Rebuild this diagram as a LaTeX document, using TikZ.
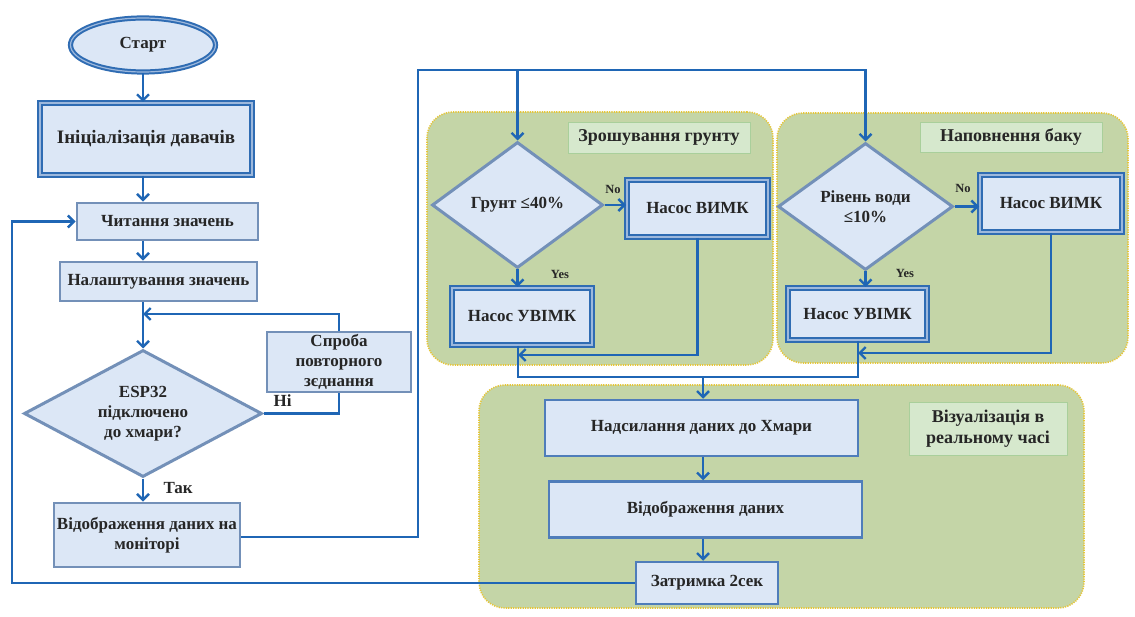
\documentclass[tikz,border=0pt]{standalone}
\usepackage{fontspec}
\setmainfont{Liberation Serif}
\usetikzlibrary{shapes.geometric,arrows.meta,calc}
\definecolor{lineblue}{HTML}{1F66B5}
\definecolor{boxfill}{HTML}{DCE7F6}
\definecolor{boxedge}{HTML}{7390B8}
\definecolor{dblout}{HTML}{2F6CB3}
\definecolor{dblin}{HTML}{9DB8DC}
\definecolor{midedge}{HTML}{4F7DBA}
\definecolor{grpfill}{HTML}{C4D5A7}
\definecolor{grpedge}{HTML}{E6C63A}
\definecolor{lblfill}{HTML}{D6E8CD}
\definecolor{lbledge}{HTML}{A9CF9B}
\tikzset{
  txt/.style={font=\bfseries\fontsize{17}{20}\selectfont, align=center, text=black!85},
  bigtxt/.style={font=\bfseries\fontsize{19}{22}\selectfont},
  small/.style={font=\bfseries\fontsize{12.5}{15}\selectfont, text=black!85},
  plainbox/.style={txt, rectangle, draw=boxedge, line width=2.8pt, fill=boxfill, inner sep=0pt},
  midbox/.style={txt, rectangle, draw=midedge, line width=2.5pt, fill=boxfill, inner sep=0pt},
  dblbox/.style={txt, rectangle, draw=dblout, line width=2pt, double=dblin, double distance=1.2pt, fill=boxfill, inner sep=0pt},
  decision/.style={txt, diamond, draw=boxedge, line width=3pt, fill=boxfill, inner sep=0pt},
  terminal/.style={txt, ellipse, draw=dblout, line width=2pt, double=dblin, double distance=1.2pt, fill=boxfill, inner sep=0pt},
  group/.style={rectangle, rounded corners=26pt, fill=grpfill, draw=grpedge, line width=1.6pt, dash pattern=on 1.2pt off 1.2pt},
  grplabel/.style={txt, font=\bfseries\fontsize{18}{21}\selectfont, rectangle, fill=lblfill, draw=lbledge, line width=0.8pt, inner sep=0pt},
  conn/.style={draw=lineblue, line width=2.4pt},
  arr/.style={conn, -{Straight Barb[length=6pt,width=12pt,line width=2.4pt]}},
}
\begin{document}
\begin{tikzpicture}[x=1pt,y=-1pt]
\useasboundingbox[fill=white] (0,0) rectangle (1135,617);

% groups
\node[group, minimum width=346pt, minimum height=253pt] (g1) at (600,238.5) {};
\node[group, minimum width=351pt, minimum height=250pt] (g2) at (952.5,238) {};
\node[group, minimum width=605pt, minimum height=223pt] (g3) at (781.5,496.5) {};
\node[grplabel, minimum width=182pt, minimum height=31pt] (l1) at (659,137.5) {Зрошування грунту};
\node[grplabel, minimum width=182pt, minimum height=30pt] (l2) at (1011,137) {Наповнення баку};
\node[grplabel, minimum width=158pt, minimum height=53pt] (l3) at (988,428.5) {Візуалізація в\\реальному часі};

% left column
\node[terminal, minimum width=145pt, minimum height=54pt] (start) at (143,45) {Старт};
\node[dblbox, bigtxt, minimum width=212pt, minimum height=72pt] (init) at (146,139) {Ініціалізація давачів};
\node[plainbox, minimum width=181pt, minimum height=37pt] (read) at (167.5,221.5) {Читання значень};
\node[plainbox, minimum width=197pt, minimum height=39pt] (adj) at (158.5,281.5) {Налаштування значень};
\node[decision, aspect=1.87, minimum width=238pt, minimum height=127pt] (esp) at (143,413.5) {ESP32\\підключено\\до хмари?};
\node[plainbox, minimum width=144pt, minimum height=60pt] (retry) at (339,362) {Спроба\\повторного\\зєднання};
\node[plainbox, minimum width=186pt, minimum height=64pt] (disp) at (147,535) {Відображення даних на\\моніторі};

% group 1
\node[decision, aspect=1.36, minimum width=171pt, minimum height=126pt] (d1) at (517.5,205) {Грунт ≤40\%};
\node[dblbox, minimum width=141pt, minimum height=57pt] (v1) at (697.5,208.5) {Насос ВИМК};
\node[dblbox, minimum width=140pt, minimum height=57pt] (u1) at (522,316.5) {Насос УВІМК};

% group 2
\node[decision, aspect=1.38, minimum width=175pt, minimum height=127pt] (d2) at (865.5,206.5) {Рівень води\\≤10\%};
\node[dblbox, minimum width=142pt, minimum height=57pt] (v2) at (1051,203.5) {Насос ВИМК};
\node[dblbox, minimum width=139pt, minimum height=52pt] (u2) at (857.5,314) {Насос УВІМК};

% group 3
\node[midbox, minimum width=313pt, minimum height=56pt] (send) at (701.5,428) {Надсилання даних до Хмари};
\node[midbox, minimum width=313pt, minimum height=56pt] (show) at (705.5,509.5) {Відображення даних};
\node[midbox, minimum width=142pt, minimum height=42pt] (delay) at (707,583) {Затримка 2сек};

% coordinates
\coordinate (mj) at (143,314);
\coordinate (tl) at (418,70);
\coordinate (j1) at (518,355);
\coordinate (j2) at (858,353);
\coordinate (j3) at (703,377);
\coordinate (lb) at (12,583);

% connectors left
\draw[arr] (start.south) -- (start.south |- init.north);
\draw[arr] (start.south |- init.south) -- (start.south |- read.north);
\draw[arr] (start.south |- read.south) -- (start.south |- adj.north);
\draw[arr] (start.south |- adj.south) -- (esp.north);
\draw[arr] (retry.north) |- (mj);
\draw[conn] (esp.east) -| (retry.south);
\draw[arr] (esp.south) -- (esp.south |- disp.north);
\node[txt, anchor=west] (ni) at (270,401) {Ні};
\node[txt, anchor=west] (tak) at (160,488) {Так};

% top bus
\draw[arr] ($(disp.east)+(0,2)$) -| (tl) -| (d2.north);
\draw[arr] (d1.north |- tl) -- (d1.north);

% group 1 connectors
\draw[arr] (d1.east) -- (d1.east -| v1.west);
\draw[arr] (d1.south) -- (d1.south |- u1.north);
\draw[arr] (v1.south) |- (j1);
\node[small] (no1) at (613,189) {No};
\node[small] (yes1) at (560,274) {Yes};

% group 2 connectors
\draw[arr] (d2.east) -- (d2.east -| v2.west);
\draw[arr] (d2.south) -- (d2.south |- u2.north);
\draw[arr] (v2.south) |- (j2);
\node[small] (no2) at (963,188) {No};
\node[small] (yes2) at (905,273) {Yes};

% merge to cloud
\draw[conn] (u1.south -| j1) |- (j3);
\draw[conn] (u2.south -| j2) |- (j3);
\draw[arr] (j3) -- (j3 |- send.north);
\draw[arr] (j3 |- send.south) -- (j3 |- show.north);
\draw[arr] (j3 |- show.south) -- (j3 |- delay.north);

% loop back
\draw[arr] (delay.west) -- (lb) |- (read.west);
\end{tikzpicture}
\end{document}
